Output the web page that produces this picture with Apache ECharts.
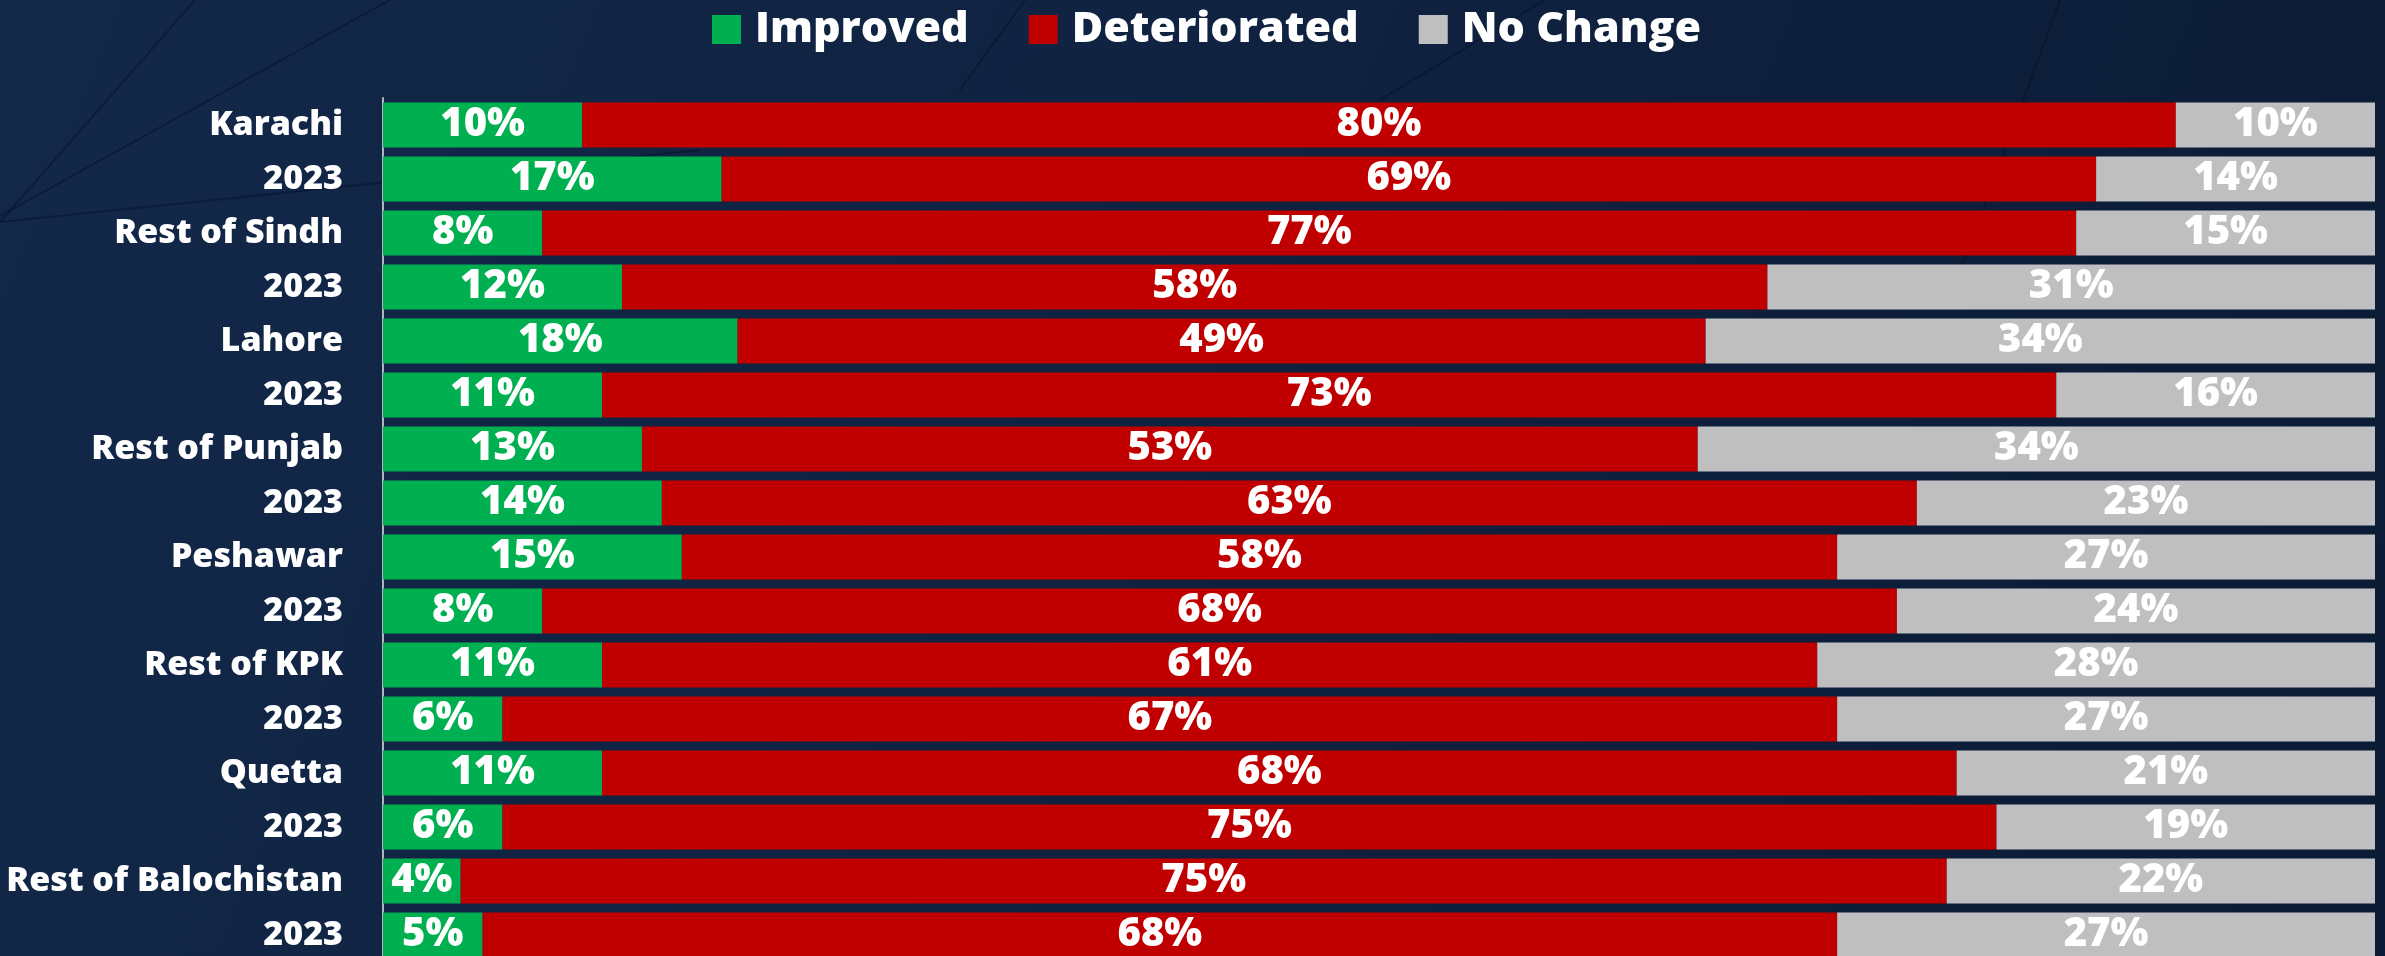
<!DOCTYPE html>
<html>
<head>
<meta charset="utf-8">
<script src="https://cdn.jsdelivr.net/npm/echarts@6/dist/echarts.min.js"></script>
<style>
  html, body { margin: 0; padding: 0; background: #0f213d; }
  #chart { width: 2385px; height: 956px; }
</style>
</head>
<body>
<div id="chart"></div>
<script>
const categories = ['Karachi', '2023', 'Rest of Sindh', '2023', 'Lahore', '2023', 'Rest of Punjab', '2023',
  'Peshawar', '2023', 'Rest of KPK', '2023', 'Quetta', '2023', 'Rest of Balochistan', '2023'];
const seriesNames = ['Improved', 'Deteriorated', 'No Change'];
const improved     = [10, 17, 8, 12, 17.8, 11, 13, 14, 15, 8, 11, 6, 11, 6, 3.9, 5];
const deteriorated = [80, 69, 77, 57.5, 48.6, 73, 53, 63, 58, 68, 61, 67, 68, 75, 74.6, 68];
const noChange     = [10, 14, 15, 30.5, 33.6, 16, 34, 23, 27, 24, 28, 27, 21, 19, 21.5, 27];
const colors = ['#00b050', '#c00000', '#bfbfbf'];

const FONT = '"Open Sans", "Noto Sans", sans-serif';
const chart = echarts.init(document.getElementById('chart'));

function barSeries(name, data, color) {
  return {
    name: name,
    type: 'bar',
    stack: 'total',
    data: data,
    barCategoryGap: '17%',
    itemStyle: { color: color },
    label: {
      show: true,
      position: 'inside',
      color: '#ffffff',
      fontFamily: FONT,
      fontWeight: 800,
      fontSize: 40,
      formatter: p => Math.round(p.value) + '%'
    },
    emphasis: { disabled: true }
  };
}

const decoLines = [
  [0, 222, 195, 0], [0, 216, 390, 0], [0, 222, 700, 150],
  [1025, 0, 960, 90], [1545, 0, 1380, 100], [2060, 0, 1950, 300]
].map(c => ({
  type: 'line', silent: true, z: -1,
  shape: { x1: c[0], y1: c[1], x2: c[2], y2: c[3] },
  style: { stroke: 'rgba(5,15,35,0.45)', lineWidth: 2 }
}));

chart.setOption({
  backgroundColor: {
    type: 'linear', x: 0, y: 0, x2: 1, y2: 1,
    colorStops: [{ offset: 0, color: '#13284a' }, { offset: 1, color: '#0b1b35' }]
  },
  animation: false,
  graphic: decoLines,
  legend: {
    data: seriesNames,
    left: 712,
    top: 8,
    padding: 0,
    icon: 'rect',
    itemWidth: 29,
    itemHeight: 29,
    itemGap: 60,
    selectedMode: false,
    textStyle: {
      color: '#ffffff',
      fontFamily: FONT,
      fontWeight: 800,
      fontSize: 43,
      padding: [0, 0, 0, 9]
    }
  },
  grid: { left: 383, right: 10, top: 98, height: 864, containLabel: false, outerBoundsMode: 'none' },
  xAxis: {
    type: 'value', min: 0, max: 100,
    show: false
  },
  yAxis: {
    type: 'category',
    data: categories,
    inverse: true,
    axisLine: { show: true, lineStyle: { color: '#aeb4bf', width: 2 } },
    axisTick: { show: false },
    splitLine: { show: false },
    axisLabel: {
      color: '#ffffff',
      fontFamily: FONT,
      fontWeight: 800,
      fontSize: 34,
      margin: 40
    }
  },
  series: [
    barSeries(seriesNames[0], improved, colors[0]),
    barSeries(seriesNames[1], deteriorated, colors[1]),
    barSeries(seriesNames[2], noChange, colors[2])
  ]
});
</script>
</body>
</html>
